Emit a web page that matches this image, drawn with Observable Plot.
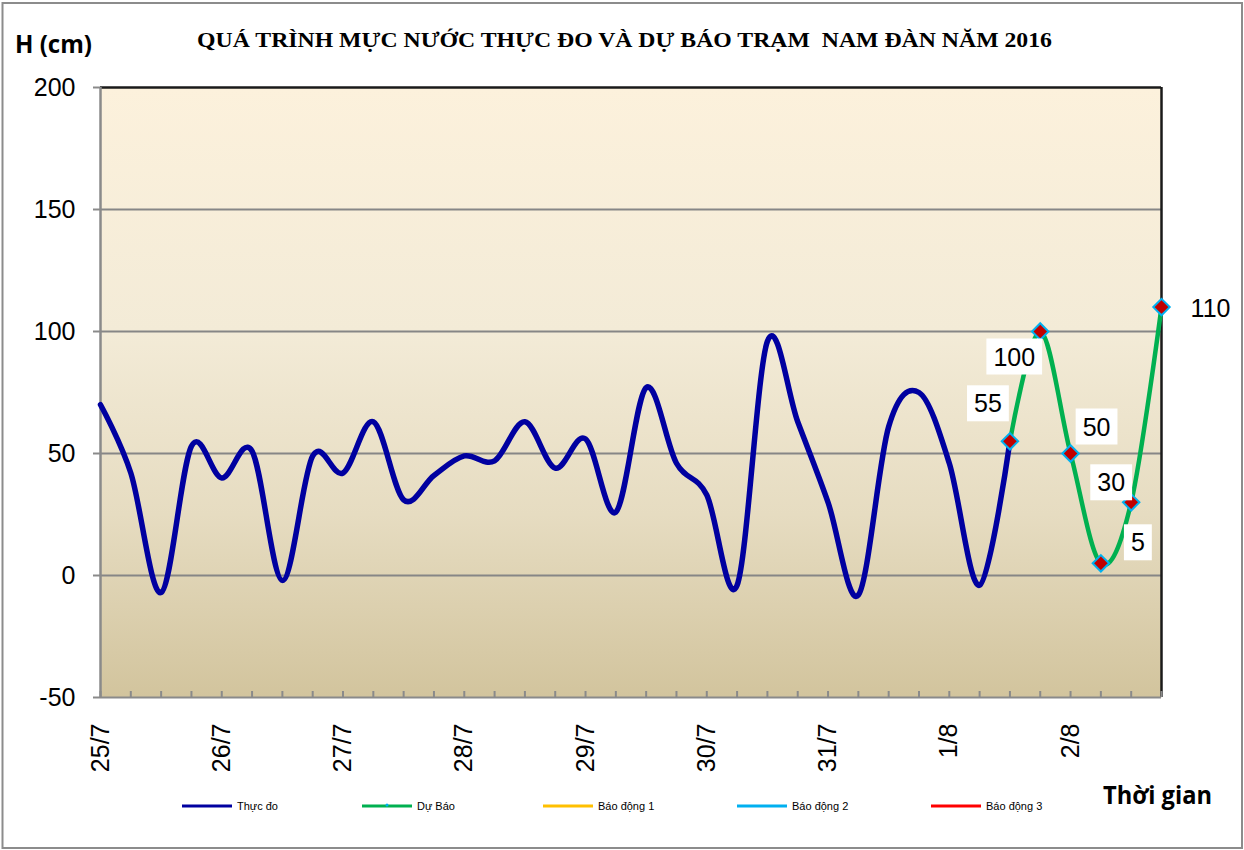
<!DOCTYPE html>
<html><head><meta charset="utf-8">
<script src="https://cdn.jsdelivr.net/npm/d3@7"></script>
<script src="https://cdn.jsdelivr.net/npm/@observablehq/plot@0.6"></script>
<style>html,body{margin:0;padding:0;background:#fff;overflow:hidden;} #chart{position:relative;width:1244px;height:850px;} #chart svg{display:block;max-width:none;}</style>
</head><body><div id="chart"></div>
<script>
// ---- data ----
const days = ["25/7","26/7","27/7","28/7","29/7","30/7","31/7","1/8","2/8"];
const slots = ["1h","7h","13h","19h"];
const observed = [70,42,-7,53,40,51,-2,49,42,63,31,41,49,47,63,44,56,26,77,46,33,-4,96,63,30,-8,61,75,46,-4,55];
const forecast = [55,100,50,5,30,110];
const yTicks = [-50,0,50,100,150,200];
const gridTicks = [0,50,100,150];
const legendNames = ["Thực đo","Dự Báo","Báo động 1","Báo động 2","Báo động 3"];
const legendColors = ["#0000a0","#00b050","#ffc000","#00b0f0","#ff0000"];
const titleText = "QUÁ TRÌNH MỰC NƯỚC THỰC ĐO VÀ DỰ BÁO TRẠM  NAM ĐÀN NĂM 2016";
const yTitle = "H (cm)";
const xTitle = "Thời gian";
// label offsets (style, px)
const labelDx = [-22,-26,26,37,-20,49];
const labelDy = [-37,26,-26,-20,-19,2];

// ---- build tables ----
const times = days.flatMap(d => slots.map(s => d + " " + s));
const obsData = observed.map((v,i) => ({t: times[i], v}));
const start = observed.length - 1;
const fcData = forecast.map((v,i) => ({t: times[start + i], v}));
const dayTicks = days.map(d => d + " " + slots[0]);

const font = "'Liberation Sans', Arial, sans-serif";

const labelMarks = fcData.map((d,i) => Plot.text([d], {
  x: "t", y: "v", text: d => String(d.v), dx: labelDx[i], dy: labelDy[i],
  fontSize: 25, fill: "#000"
}));

const plot = Plot.plot({
  width: 1244, height: 850,
  marginLeft: 100, marginRight: 83, marginTop: 87, marginBottom: 153,
  style: {fontFamily: font, background: "transparent", overflow: "visible", color: "#000"},
  x: {type: "point", domain: times, padding: 0, round: false},
  y: {domain: [-50, 200]},
  marks: [
    Plot.frame({fill: "url(#bg)", stroke: null}),
    Plot.gridY(gridTicks, {stroke: "#868686", strokeOpacity: 1, strokeWidth: 2}),
    Plot.ruleY([200], {stroke: "#1a1a1a", strokeWidth: 2.5}),
    Plot.ruleX([times[times.length - 1]], {stroke: "#1a1a1a", strokeWidth: 2.5}),
    Plot.ruleY([-50], {stroke: "#8a8a8a", strokeWidth: 2}),
    Plot.ruleX([times[0]], {stroke: "#8a8a8a", strokeWidth: 2.5}),
    Plot.axisY({ticks: yTicks, tickSize: 7, tickPadding: 18, fontSize: 25, stroke: "#8a8a8a", strokeWidth: 2, fill: "#000", tickFormat: d => String(d), label: null}),
    Plot.axisX({ticks: times, tickSize: 6, dy: -6, stroke: "#8a8a8a", strokeWidth: 2, tickFormat: () => "", label: null}),
    Plot.axisX({ticks: dayTicks, tickSize: 0, tickRotate: -90, tickPadding: 26, fontSize: 25, fill: "#000", tickFormat: t => t.split(" ")[0], label: null}),
    Plot.line(obsData, {x: "t", y: "v", curve: "cardinal", stroke: "#0000a0", strokeWidth: 5.5, strokeLinejoin: "round", strokeLinecap: "round"}),
    Plot.line(fcData, {x: "t", y: "v", curve: "cardinal", stroke: "#00b050", strokeWidth: 4.5, strokeLinejoin: "round"}),
    Plot.dot(fcData, {x: "t", y: "v", symbol: "diamond2", r: 7.4, fill: "#c00000", stroke: "#00b0f0", strokeWidth: 2}),
    ...labelMarks
  ]
});

document.getElementById("chart").appendChild(plot);

const svg = d3.select(plot);
const defs = svg.insert("defs", ":first-child");
const grad = defs.append("linearGradient").attr("id", "bg").attr("x1", 0).attr("y1", 0).attr("x2", 0).attr("y2", 1);
[[0, "#fcf1dc"], [0.4, "#f3ebd7"], [0.7, "#e6dcc1"], [1, "#d2c49d"]].forEach(([o, c]) =>
  grad.append("stop").attr("offset", o).attr("stop-color", c));

// white boxes behind value labels
const labelSet = new Set(forecast.map(String));
svg.selectAll("text").each(function() {
  const g = this.parentNode;
  const al = (g.getAttribute && g.getAttribute("aria-label")) || "";
  if (al.includes("axis")) return;
  if (!labelSet.has(this.textContent)) return;
  const b = this.getBBox();
  const padX = 7, padY = 4;
  const r = document.createElementNS("http://www.w3.org/2000/svg", "rect");
  if (this.getAttribute("transform")) r.setAttribute("transform", this.getAttribute("transform"));
  r.setAttribute("x", b.x - padX); r.setAttribute("y", b.y - padY);
  r.setAttribute("width", b.width + 2 * padX); r.setAttribute("height", b.height + 2 * padY);
  r.setAttribute("fill", "#fff"); r.setAttribute("stroke", "none");
  g.insertBefore(r, this);
});

// outer border
svg.insert("rect", ":first-child").attr("x", 2.5).attr("y", 3).attr("width", 1239.5).attr("height", 845)
  .attr("fill", "#fff").attr("stroke", "#8c8c8c").attr("stroke-width", 2);

// titles
function addText(x, y, family, size, len, str) {
  return svg.append("text").attr("x", x).attr("y", y).attr("font-family", family)
    .attr("font-weight", "bold").attr("font-size", size).attr("text-anchor", "start")
    .attr("textLength", len).attr("lengthAdjust", "spacingAndGlyphs").attr("fill", "#000").text(str);
}
addText(197, 47, "'Liberation Serif', 'Times New Roman', serif", 21, 855, titleText);
addText(15, 53, "'Open Sans', sans-serif", 25, 77, yTitle);
addText(1103, 804, "'Open Sans', sans-serif", 25, 109, xTitle);

// legend
const legendX = [182, 362, 543, 737, 931];
const lg = svg.append("g").attr("font-family", font).attr("font-size", 11).attr("text-anchor", "start");
legendNames.forEach((name, i) => {
  const x = legendX[i];
  lg.append("line").attr("x1", x).attr("x2", x + 50).attr("y1", 806).attr("y2", 806)
    .attr("stroke", legendColors[i]).attr("stroke-width", 3);
  if (i === 1) lg.append("circle").attr("cx", x + 25).attr("cy", 805).attr("r", 1.5).attr("fill", "#00b0f0");
  lg.append("text").attr("x", x + 55).attr("y", 806).attr("dy", "0.35em").attr("fill", "#000").text(name);
});
</script>
</body></html>
